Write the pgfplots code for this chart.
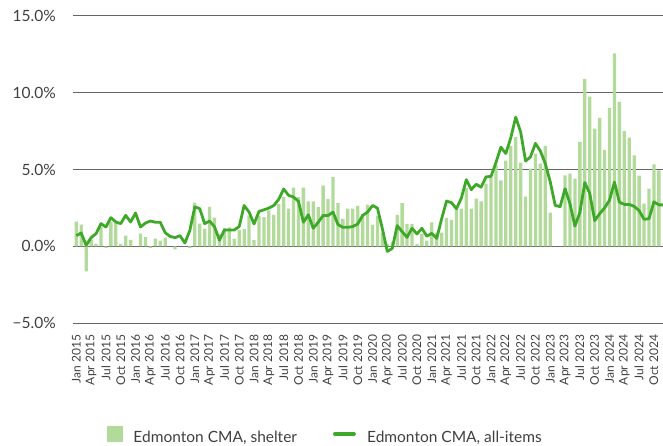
\documentclass[border=0pt]{standalone}
\usepackage{pgfplots}
\pgfplotsset{compat=1.18}
\usepackage{pgfplotstable}
\usepackage{fontspec}
\setmainfont{Lato}
\definecolor{barc}{RGB}{178,218,155}
\definecolor{linec}{RGB}{62,168,40}
\definecolor{txt}{RGB}{64,64,64}

\pgfplotstableread{
m s a
0 1.61 0.70
1 1.41 0.87
2 -1.63 0.07
3 0.43 0.57
4 0.17 0.83
5 1.26 1.48
6 -0.09 1.26
7 1.59 1.87
8 1.54 1.59
9 0.17 1.48
10 0.70 2.02
11 0.43 1.59
12 0.00 2.17
13 0.83 1.26
14 0.61 1.52
15 -0.09 1.65
16 0.50 1.57
17 0.37 1.57
18 0.57 0.89
19 0.00 0.65
20 -0.20 0.57
21 0.00 0.70
22 0.00 0.22
23 -0.09 1.04
24 2.85 2.57
25 1.48 2.46
26 1.15 1.48
27 2.57 1.65
28 1.87 1.27
29 0.81 0.40
30 1.20 1.07
31 1.24 1.07
32 0.48 1.07
33 1.07 1.29
34 1.14 2.66
35 2.00 2.23
36 0.41 1.46
37 2.00 2.27
38 1.90 2.38
39 2.34 2.49
40 2.05 2.66
41 2.77 3.06
42 3.20 3.73
43 2.45 3.32
44 3.82 3.21
45 3.20 2.93
46 3.82 1.57
47 2.93 2.05
48 2.93 1.18
49 2.55 1.57
50 3.95 2.01
51 3.08 2.01
52 4.52 2.23
53 2.82 1.42
54 1.79 1.24
55 2.45 1.24
56 2.45 1.29
57 2.64 1.46
58 2.10 2.01
59 2.71 2.23
60 1.40 2.66
61 2.00 2.49
62 0.90 1.14
63 0.15 -0.33
64 0.30 -0.13
65 2.05 1.35
66 2.82 0.96
67 1.46 0.59
68 1.46 1.18
69 0.15 0.81
70 0.81 1.18
71 0.37 0.66
72 1.57 0.85
73 0.90 0.52
74 0.90 1.79
75 1.86 2.95
76 1.72 2.84
77 2.45 2.45
78 2.45 3.14
79 3.80 4.34
80 2.45 3.69
81 3.10 4.04
82 2.93 3.85
83 4.08 4.52
84 4.45 4.55
85 5.30 5.45
86 4.30 6.45
87 5.57 6.04
88 6.54 7.05
89 7.10 8.40
90 5.44 7.45
91 3.23 5.55
92 5.06 5.82
93 6.03 6.70
94 5.38 6.20
95 6.53 5.38
96 2.19 4.20
97 0.00 2.67
98 0.00 2.58
99 4.62 3.75
100 4.73 2.77
101 4.40 1.32
102 6.79 2.20
103 10.88 4.15
104 9.73 3.45
105 7.66 1.68
106 8.36 2.12
107 6.27 2.50
108 8.99 3.00
109 12.55 4.18
110 9.40 2.88
111 7.50 2.73
112 7.08 2.73
113 5.92 2.60
114 4.60 2.33
115 2.78 1.76
116 3.75 1.80
117 5.33 2.90
118 4.95 2.70
119 0.00 2.70
}\data

\begin{document}
\begin{tikzpicture}[x=1pt,y=1pt]
\useasboundingbox (-73,-122.7) rectangle (590,323.3);
\clip (-73,-122.7) rectangle (590,323.3);
\begin{axis}[
  at={(0,0)}, anchor=south west,
  scale only axis, width=590pt, height=307.6pt,
  xmin=-0.668, xmax=118.84,
  ymin=-5, ymax=15,
  ytick={-5,0,5,10,15},
  yticklabels={−5.0\%,0.0\%,5.0\%,10.0\%,15.0\%},
  xtick={0,3,...,117},
  xticklabels={Jan 2015,Apr 2015,Jul 2015,Oct 2015,Jan 2016,Apr 2016,Jul 2016,Oct 2016,Jan 2017,Apr 2017,Jul 2017,Oct 2017,Jan 2018,Apr 2018,Jul 2018,Oct 2018,Jan 2019,Apr 2019,Jul 2019,Oct 2019,Jan 2020,Apr 2020,Jul 2020,Oct 2020,Jan 2021,Apr 2021,Jul 2021,Oct 2021,Jan 2022,Apr 2022,Jul 2022,Oct 2022,Jan 2023,Apr 2023,Jul 2023,Oct 2023,Jan 2024,Apr 2024,Jul 2024,Oct 2024},
  axis line style={draw=none},
  major tick length=0pt,
  ymajorgrids,
  major grid style={black!60, line width=1pt},
  yticklabel style={font=\fontsize{15.5}{16}\selectfont, text=txt, inner sep=0pt},
  yticklabel shift=17pt,
  xticklabel style={font=\fontsize{12}{13}\selectfont, text=txt, inner sep=0pt, rotate=90, anchor=east},
  xticklabel shift=11.5pt,
  legend columns=2,
  legend style={draw=none, fill=none, inner sep=0pt,
    at={(0.0571,0)}, anchor=north west, yshift=-102pt,
    nodes={inner sep=0pt, text=txt, font=\fontsize{15.5}{16}\selectfont},
    /tikz/every even column/.append style={column sep=36pt}},
]
\addplot[ybar, bar width=3.3pt, fill=barc, draw=none,
  legend image code/.code={\fill[barc] (0pt,-4.8pt) rectangle (16.6pt,11.8pt); \path (26.6pt,0pt);}]
  table[x=m, y=s] {\data};
\addlegendentry{Edmonton CMA, shelter}
\addplot[linec, line width=2.8pt, line join=round, mark=none,
  legend image code/.code={\draw[linec, line width=3.5pt, line cap=round] (1.7pt,3.5pt) -- (21pt,3.5pt); \path (32.6pt,0pt);}]
  table[x=m, y=a] {\data};
\addlegendentry{Edmonton CMA, all-items}
\end{axis}
\end{tikzpicture}
\end{document}
